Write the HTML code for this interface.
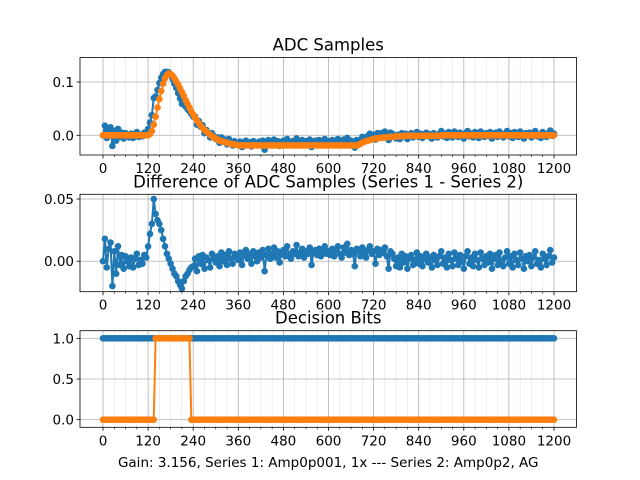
<!DOCTYPE html>
<html><head><meta charset="utf-8"><style>
html,body{margin:0;padding:0;background:#fff}
svg{display:block;font-family:"DejaVu Sans","Liberation Sans",sans-serif}
</style></head><body>
<svg id="chart" width="640" height="480" viewBox="0 0 640 480"></svg>
<script>
// ---- data ----
const step = 5;
const xTicks = [0,120,240,360,480,600,720,840,960,1080,1200];
const y1Ticks = [0.0, 0.1];
const y1Labels = ["0.0","0.1"];
const y2Ticks = [0.0, 0.05];
const y2Labels = ["0.00","0.05"];
const y3Ticks = [0.0, 0.5, 1.0];
const y3Labels = ["0.0","0.5","1.0"];

const diffVals = [
0,.018,-.005,.01,.015,-.02,.008,-.01,.012,-.003,.005,-.006,.004,0,-.004,.003,-.005,.002,.006,-.003,.001,-.002,.005,.003,
.012,.022,.03,.05,.038,.033,.03,.025,.018,.012,.006,.002,-.002,-.006,-.01,-.012,-.016,-.019,-.022,-.016,-.012,-.01,-.007,-.005,
-.004,.002,-.008,.004,-.002,.005,-.006,.003,.001,-.005,.006,.002,
-.001,.004,-.004,.007,.0,.005,-.003,.008,.002,-.002,.006,.003,
.001,.007,-.003,.005,.009,.002,.006,-.002,.008,.004,.0,.007,
.003,.009,-.008,.005,.01,.002,.006,.011,.003,.008,-.001,.006,
.009,.004,.012,.005,.002,.008,.006,.013,.004,.007,.01,.003,
.008,.006,.011,-.003,.007,.009,.005,.01,.004,.008,.012,.006,
.008,.005,.01,.004,.009,.012,.006,.003,.011,.007,.014,.005,
.009,.006,-.004,.01,.008,.004,.011,.007,.003,.009,.012,.006,
.008,-.002,.01,.005,.009,.007,.011,.004,-.006,.008,.006,.002,
-.004,.003,-.005,.006,-.001,.004,-.006,.002,.005,-.003,.001,.007,
-.002,.004,-.004,.002,.006,-.001,.003,-.005,.005,.001,-.003,.004,
.008,-.002,.003,-.005,.006,.001,-.004,.007,.002,-.003,.005,.0,
-.006,.004,.008,-.002,.003,-.004,.006,.001,-.005,.007,.002,-.003,
.004,-.001,.006,-.006,.002,.005,-.003,.007,.0,-.004,.003,.008,
-.002,.004,-.005,.006,.001,-.003,.007,.002,-.006,.004,.0,.005,
-.004,.003,.008,-.002,.001,-.005,.006,.002,-.003,.004,.009,-.001,.003
];
const series2Vals = [].concat(
Array(24).fill(0),
[0,.002,.008,.02,.035,.052,.068,.083,.097,.107,.113,.116,.115,.112,.107,.101,.095,.088,.081,.074,.066,.059,.052,.045],
[.039,.033,.028,.023,.018,.014,.010,.007,.004,.001,-.002,-.004,-.006,-.008,-.010,-.011,-.012,-.013,-.014,-.015,-.016,-.017,-.017,-.018],
Array(64).fill(-0.019),
[-.018,-.016,-.014,-.012,-.011,-.010,-.009,-.008,-.007,-.006,-.006,-.005,-.005,-.004,-.004,-.004,-.003,-.003,-.003,-.003,-.002,-.002,-.002,-.002],
Array(20).fill(-0.001),
Array(61).fill(0)
);
const series1Vals = series2Vals.map((v,i)=>v+diffVals[i]);
const bits1 = Array(241).fill(1);
const bits2 = [].concat(Array(28).fill(0), Array(19).fill(1), Array(194).fill(0));

// ---- drawing ----
const NS="http://www.w3.org/2000/svg";
const svg=document.getElementById('chart');
function el(tag,attrs,parent){const e=document.createElementNS(NS,tag);for(const k in attrs)e.setAttribute(k,attrs[k]);(parent||svg).appendChild(e);return e;}
const L=80,R=576.5;
const xs=v=>103+(v/1200)*451;

function panel(name,top,bot,ymin,ymax,yt,yl,title,series){
  const g=el('g',{});
  
  
  const ys=v=>bot-(v-ymin)/(ymax-ymin)*(bot-top);
  for(let v=0;v<=1200;v+=30){ if(v%120===0)continue;
    const m=el('line',{x1:xs(v),x2:xs(v),y1:top,y2:bot,stroke:'#e3e3e3','stroke-width':0.6},g);
    }
  xTicks.forEach(v=>{const m=el('line',{x1:xs(v),x2:xs(v),y1:top,y2:bot,stroke:'#b0b0b0','stroke-width':0.8},g);
    });
  yt.forEach(v=>{const m=el('line',{x1:L,x2:R,y1:ys(v),y2:ys(v),stroke:'#b0b0b0','stroke-width':0.8},g);
    });
  series.forEach(s=>{
    const sg=el('g',{},g);
    
    const pts=s.vals.map((v,i)=>xs(i*step).toFixed(2)+','+ys(v).toFixed(2)).join(' ');
    el('polyline',{points:pts,fill:'none',stroke:s.color,'stroke-width':2},sg);
    s.vals.forEach((v,i)=>{el('circle',{cx:xs(i*step),cy:ys(v),r:3.3,fill:s.color},sg);});
  });
  const fr=el('rect',{x:L,y:top,width:R-L,height:bot-top,fill:'none',stroke:'#000','stroke-width':0.8},g);
  
  xTicks.forEach(v=>{
    el('line',{x1:xs(v),x2:xs(v),y1:bot,y2:bot+3.5,stroke:'#000','stroke-width':0.8},g);
    const t=el('text',{x:xs(v),y:bot+18,'font-size':13.5,'text-anchor':'middle',fill:'#000'},g);
    t.textContent=v;
  });
  for(let v=0;v<=1200;v+=30){ if(v%120===0)continue; el('line',{x1:xs(v),x2:xs(v),y1:bot,y2:bot+2,stroke:'#000','stroke-width':0.6},g);}
  yt.forEach((v,i)=>{
    el('line',{x1:L-3.5,x2:L,y1:ys(v),y2:ys(v),stroke:'#000','stroke-width':0.8},g);
    const t=el('text',{x:L-6,y:ys(v)+5,'font-size':13.5,'text-anchor':'end',fill:'#000'},g);
    t.textContent=yl[i];
  });
  const tt=el('text',{x:(L+R)/2,y:top-7,'font-size':16.5,'text-anchor':'middle',fill:'#000'},g);
  tt.textContent=title;
}
panel('adc-samples-panel',57.5,155,-0.037,0.146,y1Ticks,y1Labels,'ADC Samples',
  [{name:'series-1-samples',vals:series1Vals,color:'#1f77b4'},{name:'series-2-samples',vals:series2Vals,color:'#ff7f0e'}]);
panel('difference-panel',194.3,291.7,-0.0245,0.0538,y2Ticks,y2Labels,'Difference of ADC Samples (Series 1 - Series 2)',
  [{name:'difference-series',vals:diffVals,color:'#1f77b4'}]);
panel('decision-bits-panel',330.7,427.3,-0.094,1.094,y3Ticks,y3Labels,'Decision Bits',
  [{name:'series-1-bits',vals:bits1,color:'#1f77b4'},{name:'series-2-bits',vals:bits2,color:'#ff7f0e'}]);
const xl=el('text',{x:(L+R)/2,y:467,'font-size':13.5,'text-anchor':'middle',fill:'#000'});
xl.textContent='Gain: 3.156, Series 1: Amp0p001, 1x --- Series 2: Amp0p2, AG';


</script>
</body></html>
